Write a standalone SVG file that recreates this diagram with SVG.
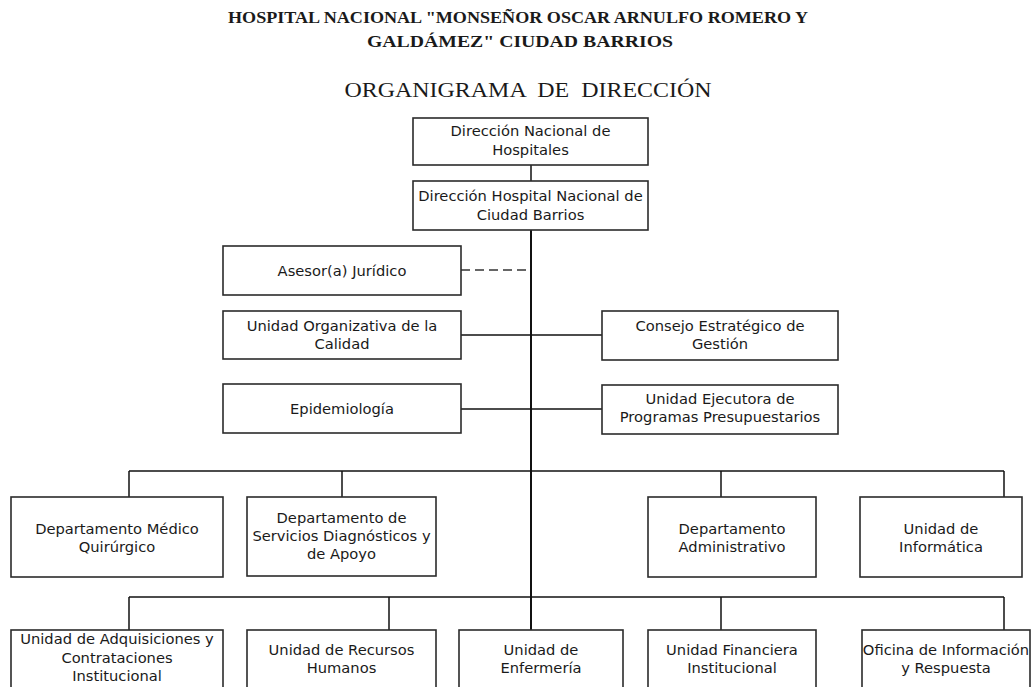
<svg xmlns="http://www.w3.org/2000/svg" width="1036" height="687" viewBox="0 0 1036 687">
<style>
.bg{fill:#ffffff}
.box{fill:#ffffff;stroke:#2b2b2b;stroke-width:1.6}
.lbl{font-family:"DejaVu Sans",sans-serif;font-size:14.7px;fill:#1a1a1a;text-anchor:middle}
.ttl{font-family:"Liberation Serif","DejaVu Serif",serif;font-weight:bold;font-size:17px;fill:#1a1a1a;text-anchor:middle}
.sub{font-family:"Liberation Serif","DejaVu Serif",serif;font-size:21px;fill:#1a1a1a;text-anchor:middle}
.ln{stroke:#111111;stroke-width:1.5;fill:none}
.main{stroke:#111111;stroke-width:2;fill:none}
.dash{stroke:#666666;stroke-width:1.8;stroke-dasharray:9,5;fill:none}
</style>
<rect class="bg" x="0" y="0" width="1036" height="687"/>
<g id="title">
<text class="ttl" x="518" y="23" textLength="580" lengthAdjust="spacingAndGlyphs">HOSPITAL NACIONAL "MONSEÑOR OSCAR ARNULFO ROMERO Y</text>
<text class="ttl" x="520" y="47" textLength="306" lengthAdjust="spacingAndGlyphs">GALDÁMEZ" CIUDAD BARRIOS</text>
<text class="sub" x="528" y="97" textLength="367" lengthAdjust="spacingAndGlyphs" xml:space="preserve">ORGANIGRAMA  DE  DIRECCIÓN</text>
</g>
<g id="connectors">
<line class="ln" x1="531" y1="165" x2="531" y2="181"/>
<line class="main" x1="531" y1="230" x2="531" y2="630"/>
<line class="dash" x1="461" y1="270" x2="531" y2="270"/>
<line class="ln" x1="461" y1="335" x2="602" y2="335"/>
<line class="ln" x1="461" y1="409" x2="602" y2="409"/>
<line class="ln" x1="129" y1="471" x2="1004" y2="471"/>
<line class="ln" x1="129" y1="471" x2="129" y2="497"/>
<line class="ln" x1="342" y1="471" x2="342" y2="497"/>
<line class="ln" x1="721" y1="471" x2="721" y2="497"/>
<line class="ln" x1="1004" y1="471" x2="1004" y2="497"/>
<line class="ln" x1="129" y1="597" x2="1004" y2="597"/>
<line class="ln" x1="129" y1="597" x2="129" y2="630"/>
<line class="ln" x1="389" y1="597" x2="389" y2="630"/>
<line class="ln" x1="721" y1="597" x2="721" y2="630"/>
<line class="ln" x1="1004" y1="597" x2="1004" y2="630"/>
</g>
<g id="n-direccion-nacional">
<rect class="box" x="413" y="118" width="235" height="47"/>
<text class="lbl" x="530.5" y="136">Dirección Nacional de</text>
<text class="lbl" x="530.5" y="155">Hospitales</text>
</g>
<g id="n-direccion-hospital">
<rect class="box" x="413" y="181" width="235" height="49"/>
<text class="lbl" x="530.5" y="201">Dirección Hospital Nacional de</text>
<text class="lbl" x="530.5" y="220">Ciudad Barrios</text>
</g>
<g id="n-asesor">
<rect class="box" x="223" y="246" width="238" height="49"/>
<text class="lbl" x="342" y="276">Asesor(a) Jurídico</text>
</g>
<g id="n-calidad">
<rect class="box" x="223" y="311" width="238" height="48"/>
<text class="lbl" x="342" y="331">Unidad Organizativa de la</text>
<text class="lbl" x="342" y="349">Calidad</text>
</g>
<g id="n-epidemiologia">
<rect class="box" x="223" y="384" width="238" height="49"/>
<text class="lbl" x="342" y="414">Epidemiología</text>
</g>
<g id="n-consejo">
<rect class="box" x="602" y="311" width="236" height="49"/>
<text class="lbl" x="720" y="331">Consejo Estratégico de</text>
<text class="lbl" x="720" y="349">Gestión</text>
</g>
<g id="n-ejecutora">
<rect class="box" x="602" y="385" width="236" height="49"/>
<text class="lbl" x="720" y="404">Unidad Ejecutora de</text>
<text class="lbl" x="720" y="422">Programas Presupuestarios</text>
</g>
<g id="n-medico">
<rect class="box" x="11" y="497" width="212" height="80"/>
<text class="lbl" x="117" y="534">Departamento Médico</text>
<text class="lbl" x="117" y="552">Quirúrgico</text>
</g>
<g id="n-servicios">
<rect class="box" x="247" y="497" width="189" height="79"/>
<text class="lbl" x="341.5" y="523">Departamento de</text>
<text class="lbl" x="341.5" y="541">Servicios Diagnósticos y</text>
<text class="lbl" x="341.5" y="559">de Apoyo</text>
</g>
<g id="n-administrativo">
<rect class="box" x="648" y="497" width="168" height="80"/>
<text class="lbl" x="732" y="534">Departamento</text>
<text class="lbl" x="732" y="552">Administrativo</text>
</g>
<g id="n-informatica">
<rect class="box" x="860" y="497" width="162" height="80"/>
<text class="lbl" x="941" y="534">Unidad de</text>
<text class="lbl" x="941" y="552">Informática</text>
</g>
<g id="n-adquisiciones">
<rect class="box" x="11" y="630" width="212" height="80"/>
<text class="lbl" x="117" y="644">Unidad de Adquisiciones y</text>
<text class="lbl" x="117" y="663">Contrataciones</text>
<text class="lbl" x="117" y="681">Institucional</text>
</g>
<g id="n-rrhh">
<rect class="box" x="247" y="630" width="189" height="80"/>
<text class="lbl" x="341.5" y="655">Unidad de Recursos</text>
<text class="lbl" x="341.5" y="673">Humanos</text>
</g>
<g id="n-enfermeria">
<rect class="box" x="459" y="630" width="164" height="80"/>
<text class="lbl" x="541" y="655">Unidad de</text>
<text class="lbl" x="541" y="673">Enfermería</text>
</g>
<g id="n-financiera">
<rect class="box" x="648" y="630" width="168" height="80"/>
<text class="lbl" x="732" y="655">Unidad Financiera</text>
<text class="lbl" x="732" y="673">Institucional</text>
</g>
<g id="n-oficina">
<rect class="box" x="862" y="630" width="168" height="80"/>
<text class="lbl" x="946" y="655">Oficina de Información</text>
<text class="lbl" x="946" y="673">y Respuesta</text>
</g>
</svg>
